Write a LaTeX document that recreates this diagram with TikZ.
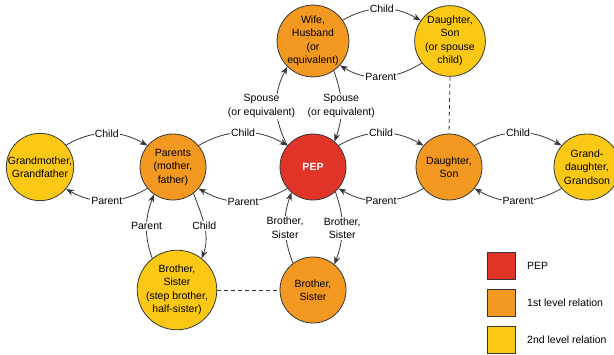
\documentclass[tikz,border=0pt]{standalone}
\usepackage{fontspec}
\setmainfont{Liberation Sans}
\usetikzlibrary{arrows.meta}

\definecolor{pepred}{RGB}{224,52,40}
\definecolor{firstor}{RGB}{243,152,32}
\definecolor{secondye}{RGB}{251,200,22}
\definecolor{linecol}{RGB}{55,55,55}
\newcommand\diagfont{\fontsize{10.5}{13.5}\selectfont}

\tikzset{
  person/.style={circle, draw=linecol, line width=0.8pt, minimum size=66pt,
    inner sep=0pt, align=center, font=\diagfont},
  pepnode/.style={person, fill=pepred, text=white, font=\diagfont\bfseries},
  first/.style={person, fill=firstor},
  second/.style={person, fill=secondye},
  rel/.style={draw=linecol, line width=0.8pt, -{Stealth[length=8pt,width=6pt]}},
  lbl/.style={fill=white, inner sep=1pt, align=center, font=\diagfont},
  tie/.style={draw=linecol, line width=0.8pt, dash pattern=on 4pt off 3pt},
  keybox/.style={draw=linecol, line width=0.8pt, minimum width=28pt,
    minimum height=27pt, inner sep=0pt},
  keytext/.style={anchor=west, font=\diagfont, inner sep=0pt}
}

\begin{document}
\begin{tikzpicture}[x=1pt, y=1pt]
  \useasboundingbox (0,0) rectangle (614,354);

  % people
  \node[second]  (gm)   at (40,187)  {Grandmother,\\Grandfather};
  \node[first]   (par)  at (173,187) {Parents\\(mother,\\father)};
  \node[pepnode] (pep)  at (313,187) {PEP};
  \node[first]   (ds)   at (449,187) {Daughter,\\Son};
  \node[second]  (gd)   at (587,187) {Grand-\\daughter,\\Grandson};
  \node[first]   (wife) at (313,313) {Wife,\\Husband\\(or\\equivalent)};
  \node[second]  (sc)   at (450,313) {Daughter,\\Son\\(or spouse\\child)};
  \node[second]  (bss)  at (177,64)  {Brother,\\Sister\\(step brother,\\half-sister)};
  \node[first]   (bs)   at (313,64)  {Brother,\\Sister};

  % indirect ties
  \draw[tie] (bss.east) -- (bs.west);
  \draw[tie] (sc.south) -- (ds.north);

  % parent / child pairs along the middle row
  \draw[rel] (gm.40)   to[out=30,in=150]  node[lbl] (l1) {Child}  (par.140);
  \draw[rel] (par.220) to[out=210,in=-30] node[lbl] (l2) {Parent} (gm.-40);
  \draw[rel] (par.40)  to[out=30,in=150]  node[lbl] (l3) {Child}  (pep.140);
  \draw[rel] (pep.220) to[out=210,in=-30] node[lbl] (l4) {Parent} (par.-40);
  \draw[rel] (pep.40)  to[out=30,in=150]  node[lbl] (l5) {Child}  (ds.140);
  \draw[rel] (ds.220)  to[out=210,in=-30] node[lbl] (l6) {Parent} (pep.-40);
  \draw[rel] (ds.40)   to[out=30,in=150]  node[lbl] (l7) {Child}  (gd.140);
  \draw[rel] (gd.220)  to[out=210,in=-30] node[lbl] (l8) {Parent} (ds.-40);

  % spouse and spouse's child
  \draw[rel] (wife.35) to[out=30,in=150]  node[lbl] (l9)  {Child}  (sc.145);
  \draw[rel] (sc.218)  to[out=212,in=-32] node[lbl] (l10) {Parent} (wife.-42);
  \draw[rel] (pep.140) to[out=118,in=242]
    node[lbl, xshift=-15pt] (l11) {Spouse\\(or equivalent)} (wife.225);
  \draw[rel] (wife.-55) to[out=-70,in=70]
    node[lbl] (l12) {Spouse\\(or equivalent)} (pep.50);

  % siblings
  \draw[rel] (bss.128) to[out=110,in=250] node[lbl] (l13) {Parent} (par.235);
  \draw[rel] (par.-52) to[out=-70,in=70]  node[lbl] (l14) {Child}  (bss.52);
  \draw[rel] (bs.127)  to[out=110,in=250] node[lbl] (l15) {Brother,\\Sister} (pep.230);
  \draw[rel] (pep.-48) to[out=-70,in=70]  node[lbl] (l16) {Brother,\\Sister} (bs.50);

  % legend
  \node[keybox, fill=pepred]   (k1) at (501,88.5) {};
  \node[keybox, fill=firstor]  (k2) at (501,51.5) {};
  \node[keybox, fill=secondye] (k3) at (501,14.5) {};
  \node[keytext] (t1) at (527,88.5) {PEP};
  \node[keytext] (t2) at (527,51.5) {1st level relation};
  \node[keytext] (t3) at (527,14.5) {2nd level relation};
\end{tikzpicture}
\end{document}
